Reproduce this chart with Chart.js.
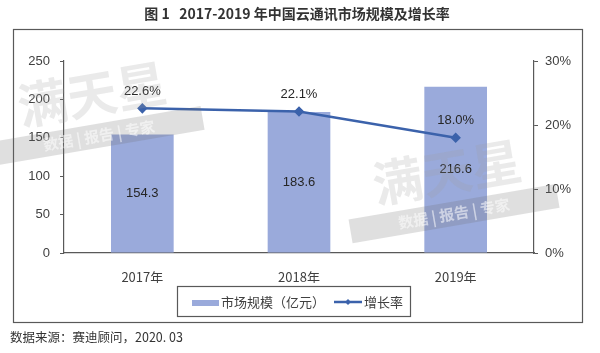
<!DOCTYPE html>
<html>
<head>
<meta charset="utf-8">
<script src="https://cdn.jsdelivr.net/npm/chart.js@4/dist/chart.umd.min.js"></script>
<style>
  html, body { margin: 0; padding: 0; background: #fff; }
  #wrap { width: 600px; height: 353px; position: relative; }
</style>
</head>
<body>
<div id="wrap"><canvas id="chart"></canvas></div>
<script>
'use strict';

// Chart data
const years = ['2017年', '2018年', '2019年'];
const marketSize = [154.3, 183.6, 216.6];     // 亿元
const growthRate = [22.6, 22.1, 18.0];        // %
const sizeTicks = [0, 50, 100, 150, 200, 250];
const rateTicks = [0, 10, 20, 30];

const titleText = '图 1   2017-2019 年中国云通讯市场规模及增长率';
const sourceText = '数据来源：赛迪顾问，2020. 03';
const sizeLabel = '市场规模（亿元）';
const rateLabel = '增长率';

const barColor = '#9aaadb';
const lineColor = '#3b62ab';
const textColor = '#404040';
const axisColor = '#595959';
const fontFamily = '"Liberation Sans", Arial, "Noto Sans CJK SC", sans-serif';
const cjkFamily = '"Noto Sans CJK SC", "Liberation Sans", sans-serif';

// Draws the title, frame, watermark, value labels, legend and source note
const decorations = {
    id: 'decorations',
    beforeDraw(chart) {
        const ctx = chart.ctx;
        ctx.save();
        // outer frame
        ctx.strokeStyle = axisColor;
        ctx.lineWidth = 1.2;
        ctx.strokeRect(13.5, 29.5, 569, 293);
        // title
        ctx.fillStyle = '#333';
        ctx.font = 'bold 14px ' + cjkFamily;
        ctx.textAlign = 'center';
        ctx.textBaseline = 'middle';
        ctx.fillText(titleText, 297, 14);
        // source note
        ctx.font = '12.5px ' + cjkFamily;
        ctx.textAlign = 'left';
        ctx.fillStyle = '#333';
        ctx.fillText(sourceText, 10, 337);
        ctx.restore();
    },
    afterDatasetsDraw(chart) {
        const ctx = chart.ctx;
        ctx.save();
        ctx.font = '13px ' + fontFamily;
        ctx.fillStyle = '#262626';
        ctx.textAlign = 'center';
        ctx.textBaseline = 'middle';
        // bar values in the middle of each bar
        chart.getDatasetMeta(0).data.forEach((bar, i) => {
            ctx.fillText(marketSize[i].toFixed(1), bar.x, (bar.y + bar.base) / 2);
        });
        // growth values above each point
        chart.getDatasetMeta(1).data.forEach((pt, i) => {
            ctx.fillText(growthRate[i].toFixed(1) + '%', pt.x, pt.y - 17);
        });
        ctx.restore();
    },
    afterDraw(chart) {
        const ctx = chart.ctx;
        ctx.save();
        // watermark
        const marks = [[95, 112], [450, 190]];
        marks.forEach(([x, y]) => {
            ctx.save();
            ctx.translate(x, y);
            ctx.rotate(-0.17);
            ctx.textAlign = 'center';
            ctx.textBaseline = 'middle';
            ctx.fillStyle = 'rgba(160,160,160,0.22)';
            ctx.font = 'bold 50px ' + cjkFamily;
            ctx.fillText('满天星', 0, -18);
            ctx.fillStyle = 'rgba(110,110,110,0.22)';
            ctx.fillRect(-105, 12, 210, 24);
            ctx.fillStyle = 'rgba(255,255,255,0.55)';
            ctx.font = 'bold 15px ' + cjkFamily;
            ctx.fillText('数据 | 报告 | 专家', 0, 24);
            ctx.restore();
        });

        // legend box
        ctx.strokeStyle = axisColor;
        ctx.lineWidth = 1.2;
        ctx.strokeRect(177.5, 286.5, 233, 30);
        ctx.fillStyle = barColor;
        ctx.fillRect(192, 300, 27, 6);
        ctx.strokeStyle = lineColor;
        ctx.lineWidth = 2.5;
        ctx.beginPath();
        ctx.moveTo(334, 302);
        ctx.lineTo(362, 302);
        ctx.stroke();
        ctx.fillStyle = lineColor;
        ctx.beginPath();
        ctx.moveTo(348, 299);
        ctx.lineTo(351, 302);
        ctx.lineTo(348, 305);
        ctx.lineTo(345, 302);
        ctx.closePath();
        ctx.fill();
        ctx.fillStyle = textColor;
        ctx.font = '13px ' + cjkFamily;
        ctx.textAlign = 'left';
        ctx.textBaseline = 'middle';
        ctx.fillText(sizeLabel, 221, 302);
        ctx.fillText(rateLabel, 364, 302);
        ctx.restore();
    }
};

const ctx = document.getElementById('chart').getContext('2d');
const chart = new Chart(ctx, {
    type: 'bar',
    data: {
        labels: years,
        datasets: [{
            type: 'bar',
            label: sizeLabel,
            data: marketSize,
            backgroundColor: barColor,
            yAxisID: 'y',
            categoryPercentage: 0.8,
            barPercentage: 0.5,
            order: 2
        }, {
            type: 'line',
            label: rateLabel,
            data: growthRate,
            borderColor: lineColor,
            backgroundColor: lineColor,
            borderWidth: 2.5,
            pointStyle: 'rectRot',
            pointRadius: 3.5,
            yAxisID: 'y1',
            order: 1
        }]
    },
    options: {
        responsive: true,
        maintainAspectRatio: false,
        animation: false,
        layout: { padding: { left: 20, right: 20, top: 61, bottom: 70 } },
        plugins: {
            legend: { display: false },
            tooltip: { enabled: false }
        },
        scales: {
            x: {
                grid: { display: false },
                border: { display: true, color: axisColor, width: 1.2 },
                ticks: { color: textColor, font: { size: 13, family: cjkFamily }, padding: 8 },
                afterFit: (scale) => { scale.height = 30; }
            },
            y: {
                position: 'left',
                min: 0,
                max: 250,
                afterBuildTicks: (scale) => { scale.ticks = sizeTicks.map(v => ({ value: v })); },
                grid: { drawOnChartArea: false, drawTicks: true, tickLength: 4, color: axisColor },
                border: { display: true, color: axisColor, width: 1.2 },
                ticks: { color: textColor, font: { size: 13, family: fontFamily }, padding: 10 },
                afterFit: (scale) => { scale.width = 44; }
            },
            y1: {
                position: 'right',
                min: 0,
                max: 30,
                afterBuildTicks: (scale) => { scale.ticks = rateTicks.map(v => ({ value: v })); },
                grid: { drawOnChartArea: false, drawTicks: true, tickLength: 4, color: axisColor },
                border: { display: true, color: axisColor, width: 1.2 },
                ticks: {
                    color: textColor,
                    font: { size: 13, family: fontFamily },
                    padding: 7,
                    callback: (v) => v + '%'
                },
                afterFit: (scale) => { scale.width = 46; }
            }
        }
    },
    plugins: [decorations]
});
</script>
</body>
</html>
